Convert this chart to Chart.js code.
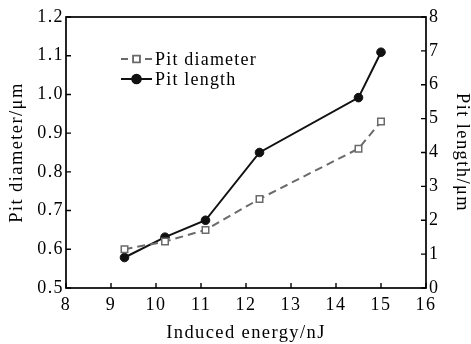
<!DOCTYPE html>
<html>
<head>
<meta charset="utf-8">
<script src="https://cdn.jsdelivr.net/npm/chart.js@4/dist/chart.umd.min.js"></script>
<style>
  body { margin: 0; background: #fff; }
  #wrap { width: 471px; height: 344px; }
</style>
</head>
<body>
<div id="wrap"><canvas id="chart" width="471" height="344"></canvas></div>
<script>
// data
const energy = [9.3, 10.2, 11.1, 12.3, 14.5, 15.0];
const pitDiameter = [0.60, 0.62, 0.65, 0.73, 0.86, 0.93];
const pitLength = [0.9, 1.5, 2.0, 4.0, 5.62, 6.96];
const seriesNames = ['Pit diameter', 'Pit length'];

const serif = "'Liberation Serif', 'Times New Roman', serif";
const tickFont = { family: serif, size: 18 };
const titleFont = { family: serif, size: 18.5, lineHeight: 1 };

// letter spacing to get the wide look of the original print
const spacing = {
  id: 'spacing',
  beforeDraw(chart) {
    chart.ctx.letterSpacing = '1.4px';
  }
};

// box around the plot and inward tick marks
const frame = {
  id: 'frame',
  afterDraw(chart) {
    const ctx = chart.ctx;
    const a = chart.chartArea;
    ctx.save();
    ctx.strokeStyle = '#000';
    ctx.lineWidth = 1.7;
    ctx.strokeRect(a.left, a.top, a.right - a.left, a.bottom - a.top);
    ctx.lineWidth = 1.4;
    ctx.beginPath();
    const sx = chart.scales.x;
    sx.ticks.forEach(t => {
      const px = sx.getPixelForValue(t.value);
      ctx.moveTo(px, a.bottom);
      ctx.lineTo(px, a.bottom - 5);
    });
    const sy = chart.scales.y;
    sy.ticks.forEach(t => {
      const py = sy.getPixelForValue(t.value);
      ctx.moveTo(a.left, py);
      ctx.lineTo(a.left + 5, py);
    });
    const sy2 = chart.scales.y2;
    sy2.ticks.forEach(t => {
      const py = sy2.getPixelForValue(t.value);
      ctx.moveTo(a.right, py);
      ctx.lineTo(a.right - 5, py);
    });
    ctx.stroke();
    ctx.restore();
  }
};

// legend inside the plot, upper left
const innerLegend = {
  id: 'innerLegend',
  afterDraw(chart) {
    const ctx = chart.ctx;
    ctx.save();
    ctx.letterSpacing = '1.2px';
    chart.data.datasets.forEach((ds, i) => {
      const y = 59 + i * 20;
      const x0 = 121, x1 = 152;
      ctx.strokeStyle = ds.borderColor;
      ctx.lineWidth = ds.borderWidth;
      ctx.setLineDash(ds.borderDash || []);
      ctx.beginPath();
      if (ds.borderDash) {
        ctx.moveTo(x0, y); ctx.lineTo(x0 + 7, y);
        ctx.moveTo(x1 - 7, y); ctx.lineTo(x1, y);
      } else {
        ctx.moveTo(x0, y); ctx.lineTo(x1, y);
      }
      ctx.stroke();
      ctx.setLineDash([]);
      Chart.helpers.drawPoint(ctx, {
        pointStyle: ds.pointStyle,
        radius: ds.pointRadius,
        borderWidth: ds.pointBorderWidth
      }, (x0 + x1) / 2, y);
      ctx.fillStyle = ds.pointBackgroundColor;
      ctx.strokeStyle = ds.pointBorderColor;
      ctx.lineWidth = ds.pointBorderWidth;
      ctx.fill();
      ctx.stroke();
      ctx.fillStyle = '#000';
      ctx.font = '18px ' + serif;
      ctx.textBaseline = 'middle';
      ctx.fillText(ds.label, 155, y + 1);
    });
    ctx.restore();
  }
};

const ctx = document.getElementById('chart').getContext('2d');
new Chart(ctx, {
  type: 'line',
  data: {
    datasets: [
      {
        label: seriesNames[0],
        data: energy.map((e, i) => ({ x: e, y: pitDiameter[i] })),
        yAxisID: 'y',
        borderColor: '#6a6a6a',
        borderWidth: 2,
        borderDash: [8, 5],
        pointStyle: 'rect',
        pointRadius: 4.6,
        pointBorderWidth: 1.5,
        pointBackgroundColor: '#fff',
        pointBorderColor: '#6a6a6a'
      },
      {
        label: seriesNames[1],
        data: energy.map((e, i) => ({ x: e, y: pitLength[i] })),
        yAxisID: 'y2',
        borderColor: '#111',
        borderWidth: 2,
        pointStyle: 'circle',
        pointRadius: 4.3,
        pointBorderWidth: 1,
        pointBackgroundColor: '#111',
        pointBorderColor: '#111'
      }
    ]
  },
  options: {
    responsive: false,
    animation: false,
    layout: { padding: { top: 17, left: 0, right: 0, bottom: 0 } },
    plugins: {
      legend: { display: false },
      tooltip: { enabled: false }
    },
    scales: {
      x: {
        type: 'linear',
        min: 8, max: 16,
        afterFit: s => { s.height = 56; },
        grid: { display: true, drawOnChartArea: false, drawTicks: false },
        border: { display: false },
        ticks: { stepSize: 1, font: tickFont, color: '#000', padding: 6, maxRotation: 0 },
        title: { display: true, text: 'Induced energy/nJ', font: titleFont, color: '#000', padding: { top: 0, bottom: 2 } }
      },
      y: {
        position: 'left',
        min: 0.5, max: 1.2,
        afterFit: s => { s.width = 66; },
        grid: { display: true, drawOnChartArea: false, drawTicks: false },
        border: { display: false },
        ticks: { stepSize: 0.1, font: tickFont, color: '#000', padding: 2,
          callback: v => v.toFixed(1) },
        title: { display: true, text: 'Pit diameter/μm', font: titleFont, color: '#000', padding: { top: 8, bottom: 0 } }
      },
      y2: {
        position: 'right',
        min: 0, max: 8,
        afterFit: s => { s.width = 45; },
        grid: { display: true, drawOnChartArea: false, drawTicks: false },
        border: { display: false },
        ticks: { stepSize: 1, font: tickFont, color: '#000', padding: 3 },
        title: { display: true, text: 'Pit length/μm', font: titleFont, color: '#000', padding: { top: 0, bottom: 0 } }
      }
    }
  },
  plugins: [spacing, frame, innerLegend]
});
</script>
</body>
</html>
